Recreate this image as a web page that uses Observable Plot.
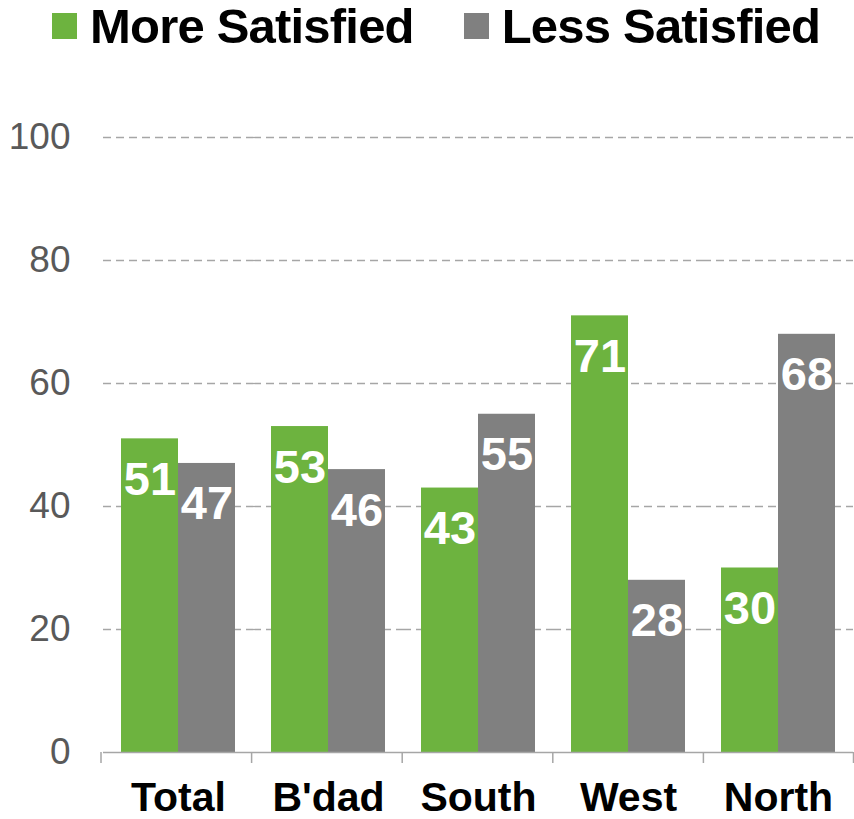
<!DOCTYPE html>
<html>
<head>
<meta charset="utf-8">
<script src="https://cdn.jsdelivr.net/npm/d3@7"></script>
<script src="https://cdn.jsdelivr.net/npm/@observablehq/plot@0.6"></script>
<style>
  html, body { margin: 0; padding: 0; background: #fff; }
  body { font-family: "Liberation Sans", Arial, sans-serif; width: 854px; overflow: hidden; }
  #legend { height: 52px; display: flex; align-items: center; padding-left: 52px; box-sizing: border-box; white-space: nowrap; width: 854px; }
  .item { display: flex; align-items: center; margin-right: 50px; flex-shrink: 0; }
  .sw { width: 25px; height: 26px; margin-right: 13px; flex-shrink: 0; }
  .lbl { font-weight: bold; font-size: 49px; line-height: 52px; letter-spacing: -0.8px; color: #000; white-space: nowrap; }
  #chart svg { display: block; }
</style>
</head>
<body>
<div id="legend"></div>
<div id="chart"></div>
<script>
const regions = ["Total", "B'dad", "South", "West", "North"];
const series = ["More Satisfied", "Less Satisfied"];
const moreSatisfied = [51, 53, 43, 71, 30];
const lessSatisfied = [47, 46, 55, 28, 68];
const seriesColors = ["#6db33f", "#808080"];
const yTicks = [0, 20, 40, 60, 80, 100];

const data = regions.flatMap((r, i) => [
  {region: r, series: series[0], value: moreSatisfied[i]},
  {region: r, series: series[1], value: lessSatisfied[i]}
]);

// Legend
const legend = d3.select("#legend");
series.forEach((s, i) => {
  const it = legend.append("div").attr("class", "item");
  it.append("div").attr("class", "sw").style("background", seriesColors[i]);
  it.append("span").attr("class", "lbl").text(s);
});

const plot = Plot.plot({
  width: 854,
  height: 767,
  marginLeft: 101,
  marginRight: 0,
  marginTop: 85,
  marginBottom: 67,
  style: {fontFamily: "'Liberation Sans', Arial, sans-serif", background: "white", overflow: "visible"},
  fx: {domain: regions, padding: 0, label: null},
  x: {domain: series, paddingInner: 0, paddingOuter: 0.31, axis: null},
  y: {domain: [0, 100], label: null},
  color: {domain: series, range: seriesColors},
  marks: [
    Plot.gridY(yTicks.filter(d => d > 0), {stroke: "#a6a6a6", strokeOpacity: 1, strokeWidth: 1.3, strokeDasharray: "8,5"}),
    Plot.axisY(yTicks, {tickSize: 0, tickPadding: 33, fontSize: 37, fill: "#595959", label: null}),
    Plot.barY(data, {fx: "region", x: "series", y: "value", fill: "series"}),
    Plot.ruleY([0], {stroke: "#a6a6a6", strokeWidth: 1.5}),
    Plot.text(data, {fx: "region", x: "series", y: "value", text: d => String(d.value), fill: "white", fontWeight: "bold", fontSize: 47, dy: 41, lineAnchor: "middle"}),
    Plot.axisFx({anchor: "bottom", tickSize: 0, tickPadding: 29, fontSize: 41, fontWeight: "bold", fill: "black", label: null})
  ]
});

document.getElementById("chart").appendChild(plot);

// Category boundary ticks below the axis, from the fx scale
const fx = plot.scale("fx");
const ys = plot.scale("y");
const y0 = ys.range[0];
const x0 = fx.range[0];
const step = (fx.range[1] - fx.range[0]) / regions.length;
const svg = d3.select(plot.tagName.toLowerCase() === "svg" ? plot : plot.querySelector("svg"));
d3.range(regions.length + 1).forEach(i => {
  const x = Math.min(x0 + i * step, 853.5);
  svg.append("line")
    .attr("x1", x).attr("x2", x)
    .attr("y1", y0).attr("y2", y0 + 11)
    .attr("stroke", "#a6a6a6").attr("stroke-width", 1.5);
});
</script>
</body>
</html>
